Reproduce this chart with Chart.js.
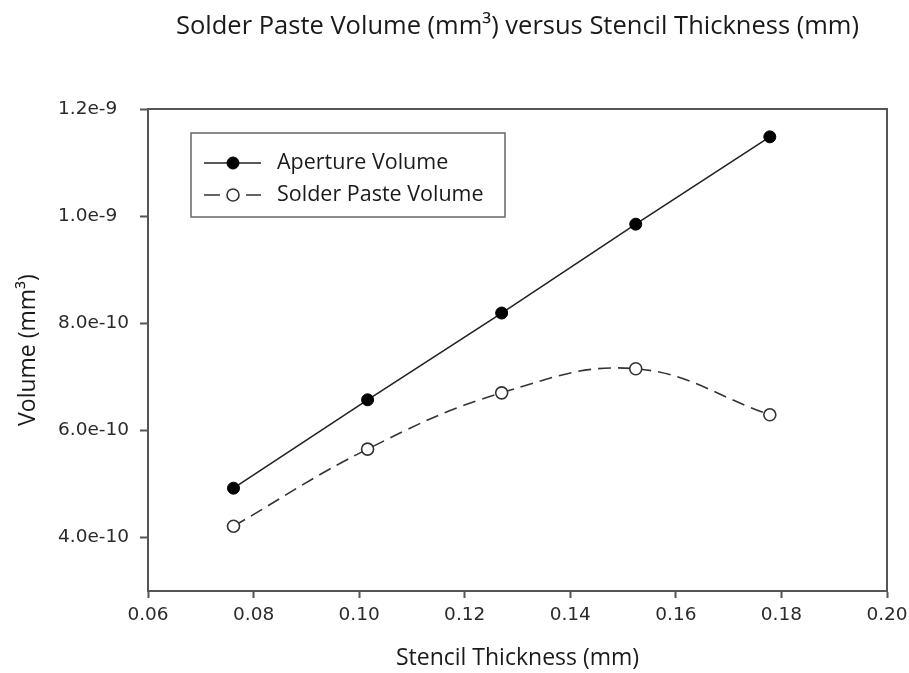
<!DOCTYPE html>
<html>
<head>
<meta charset="utf-8">
<script src="https://cdn.jsdelivr.net/npm/chart.js@4"></script>
<style>
  html, body { margin: 0; padding: 0; background: #fff; }
  #wrap { width: 909px; height: 673px; }
</style>
</head>
<body>
<div id="wrap"><canvas id="chart" width="909" height="673"></canvas></div>
<script>
// Dữ liệu
const thickness = [0.0762, 0.1016, 0.127, 0.1524, 0.1778];
const apertureVolume = [4.92e-10, 6.57e-10, 8.19e-10, 9.85e-10, 1.148e-9];
const pasteVolume = [4.21e-10, 5.65e-10, 6.70e-10, 7.15e-10, 6.29e-10];
const yTicks = [4.0e-10, 6.0e-10, 8.0e-10, 1.0e-9, 1.2e-9];
const xTicks = [0.06, 0.08, 0.10, 0.12, 0.14, 0.16, 0.18, 0.20];
const seriesNames = ['Aperture Volume', 'Solder Paste Volume'];
const chartTitle = 'Solder Paste Volume (mm\u00B3) versus Stencil Thickness (mm)';

const axisColor = '#555';
const tickFont = { family: 'DejaVu Sans', size: 18.5 };
const textFont = 'Open Sans';

// Khung viền + tiêu đề + chú thích
const framePlugin = {
    id: 'frame',
    afterDraw(chart) {
        const { ctx, chartArea: a } = chart;
        ctx.save();
        ctx.strokeStyle = axisColor;
        ctx.lineWidth = 2;
        ctx.strokeRect(a.left, a.top, a.right - a.left, a.bottom - a.top);

        // Tiêu đề chính, căn giữa vùng vẽ
        ctx.fillStyle = '#1a1a1a';
        ctx.font = `25.5px ${textFont}`;
        ctx.textAlign = 'center';
        ctx.textBaseline = 'middle';
        ctx.fillText(chartTitle, (a.left + a.right) / 2, 27);

        // Chú thích
        const box = { x: 191, y: 133, w: 314, h: 84 };
        ctx.lineWidth = 1.5;
        ctx.strokeStyle = '#666';
        ctx.strokeRect(box.x, box.y, box.w, box.h);
        const rows = [163, 195];
        chart.data.datasets.forEach((ds, i) => {
            const y = rows[i];
            ctx.strokeStyle = ds.borderColor;
            ctx.lineWidth = ds.borderWidth;
            ctx.beginPath();
            if (ds.borderDash) {
                ctx.moveTo(204, y); ctx.lineTo(220, y);
                ctx.moveTo(246, y); ctx.lineTo(261, y);
            } else {
                ctx.moveTo(204, y); ctx.lineTo(261, y);
            }
            ctx.stroke();
            ctx.beginPath();
            ctx.arc(233, y, ds.pointRadius, 0, Math.PI * 2);
            ctx.fillStyle = ds.pointBackgroundColor;
            ctx.fill();
            ctx.strokeStyle = ds.pointBorderColor;
            ctx.lineWidth = ds.pointBorderWidth;
            ctx.stroke();
            ctx.fillStyle = '#1a1a1a';
            ctx.font = `21.5px ${textFont}`;
            ctx.textAlign = 'left';
            ctx.textBaseline = 'middle';
            ctx.fillText(ds.label, 277, y);
        });
        ctx.restore();
    }
};

new Chart(document.getElementById('chart'), {
    type: 'line',
    data: {
        datasets: [{
            label: seriesNames[0],
            data: thickness.map((x, i) => ({ x, y: apertureVolume[i] })),
            borderColor: '#222',
            borderWidth: 1.6,
            pointRadius: 6,
            pointBackgroundColor: '#000',
            pointBorderColor: '#000',
            pointBorderWidth: 1,
            tension: 0
        }, {
            label: seriesNames[1],
            data: thickness.map((x, i) => ({ x, y: pasteVolume[i] })),
            borderColor: '#333',
            borderWidth: 1.6,
            borderDash: [13, 7],
            pointRadius: 6,
            pointBackgroundColor: '#fff',
            pointBorderColor: '#333',
            pointBorderWidth: 1.6,
            tension: 0.4
        }]
    },
    options: {
        responsive: false,
        animation: false,
        layout: { padding: { left: 58, top: 109, right: 0, bottom: 0 } },
        plugins: {
            legend: { display: false },
            tooltip: { enabled: false }
        },
        scales: {
            x: {
                type: 'linear',
                min: 0.06,
                max: 0.20,
                afterBuildTicks: s => { s.ticks = xTicks.map(v => ({ value: v })); },
                afterFit: s => { s.height = 82; s.paddingRight = 22; },
                grid: { drawOnChartArea: false, color: axisColor, tickLength: 7, tickWidth: 2 },
                border: { color: axisColor, width: 2 },
                ticks: { font: tickFont, color: '#2a2a2a', padding: 6, maxRotation: 0,
                         callback: v => Number(v).toFixed(2) },
                title: { display: true, text: 'Stencil Thickness (mm)', color: '#1a1a1a',
                         font: { family: textFont, size: 23 }, padding: { top: 0, bottom: 1 } }
            },
            y: {
                type: 'linear',
                min: 3.0e-10,
                max: 1.2e-9,
                afterBuildTicks: s => { s.ticks = yTicks.map(v => ({ value: v })); },
                afterFit: s => { s.width = 90; },
                grid: { drawOnChartArea: false, color: axisColor, tickLength: 8, tickWidth: 2 },
                border: { color: axisColor, width: 2 },
                ticks: { font: tickFont, color: '#2a2a2a', crossAlign: 'far',
                         callback: v => Number(v).toExponential(1) },
                title: { display: true, text: 'Volume (mm\u00B3)', color: '#1a1a1a',
                         font: { family: textFont, size: 23 }, padding: { top: -43, bottom: 0 } }
            }
        }
    },
    plugins: [framePlugin]
});
</script>
</body>
</html>
